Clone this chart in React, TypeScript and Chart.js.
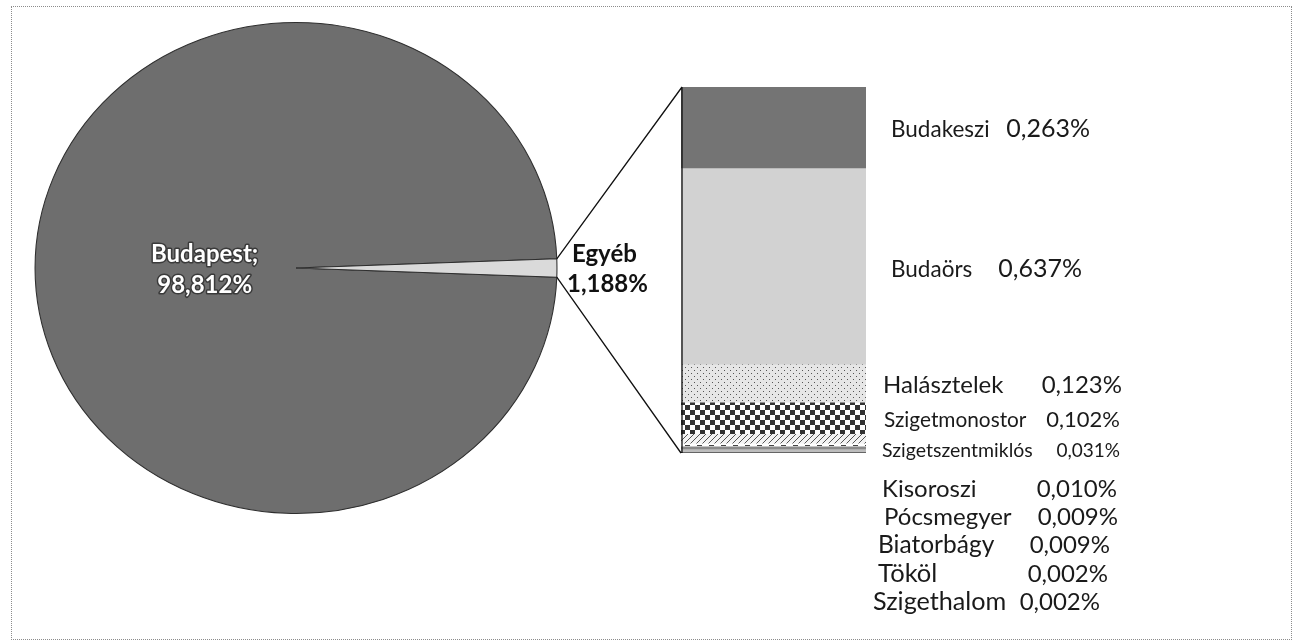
import React, { useEffect, useRef } from 'react';
import { Chart, registerables } from 'chart.js';
Chart.register(...registerables);

// ---- data ----
const pieLabels = ['Budapest', 'Egyéb'];
const pieValues = [98.812, 1.188];

const barLabels = [
  'Budakeszi', 'Budaörs', 'Halásztelek', 'Szigetmonostor', 'Szigetszentmiklós',
  'Kisoroszi', 'Pócsmegyer', 'Biatorbágy', 'Tököl', 'Szigethalom',
];
const barValues = [0.263, 0.637, 0.123, 0.102, 0.031, 0.010, 0.009, 0.009, 0.002, 0.002];

// ---- layout / style (not data) ----
const FONT = 'Lato, "Open Sans", sans-serif';
const SX = 1.063; // horizontal stretch of the scanned pie
// nx: name left x, vx: value right x, y: baseline, ns / vs: font sizes
const labelLayout = [
  { nx: 891, vx: 1090, y: 137, ns: 22.5, vs: 25 },
  { nx: 891, vx: 1082, y: 277, ns: 22.5, vs: 25 },
  { nx: 883, vx: 1122, y: 393, ns: 24, vs: 24 },
  { nx: 884, vx: 1120, y: 427, ns: 20.8, vs: 22 },
  { nx: 882, vx: 1120, y: 457, ns: 19.5, vs: 19 },
  { nx: 882, vx: 1117, y: 497, ns: 24, vs: 24 },
  { nx: 884, vx: 1118, y: 525, ns: 24, vs: 24 },
  { nx: 878, vx: 1110, y: 553, ns: 24.5, vs: 24 },
  { nx: 878, vx: 1108, y: 582, ns: 25.5, vs: 24 },
  { nx: 873, vx: 1100, y: 610, ns: 25.2, vs: 24 },
];

const fmt = (v: number, d = 3) => v.toFixed(d).replace('.', ',') + '%';

function makePattern(w: number, h: number, draw: (c: CanvasRenderingContext2D) => void) {
  const cv = document.createElement('canvas');
  cv.width = w;
  cv.height = h;
  const c = cv.getContext('2d')!;
  draw(c);
  return c.createPattern(cv, 'repeat')!;
}

export default function App() {
  const pieRef = useRef<HTMLCanvasElement>(null);
  const barRef = useRef<HTMLCanvasElement>(null);

  useEffect(() => {
    const dots = makePattern(6, 6, (c) => {
      c.fillStyle = '#e6e6e6';
      c.fillRect(0, 0, 6, 6);
      c.fillStyle = '#555';
      c.fillRect(1, 1, 1, 1);
      c.fillRect(4, 4, 1, 1);
    });
    const checker = makePattern(10, 10, (c) => {
      c.fillStyle = '#ffffff';
      c.fillRect(0, 0, 10, 10);
      c.fillStyle = '#333';
      c.fillRect(0, 0, 5, 5);
      c.fillRect(5, 5, 5, 5);
    });
    const hatch = makePattern(6, 6, (c) => {
      c.fillStyle = '#f4f4f4';
      c.fillRect(0, 0, 6, 6);
      c.strokeStyle = '#555';
      c.lineWidth = 1;
      c.beginPath();
      c.moveTo(0, 6);
      c.lineTo(6, 0);
      c.stroke();
    });
    const dashes = makePattern(12, 3, (c) => {
      c.fillStyle = '#ffffff';
      c.fillRect(0, 0, 12, 3);
      c.fillStyle = '#444';
      c.fillRect(1, 1, 5, 1);
    });
    const barFills: any[] = [
      '#747474', '#d2d2d2', dots, checker, hatch,
      dashes, '#8a8a8a', '#bdbdbd', '#555555', '#999999',
    ];

    const stretch = {
      id: 'stretch',
      beforeDatasetsDraw(chart: any) {
        const el = chart.getDatasetMeta(0).data[0];
        const ctx = chart.ctx;
        ctx.save();
        ctx.translate(el.x, 0);
        ctx.scale(SX, 1);
        ctx.translate(-el.x, 0);
      },
      afterDatasetsDraw(chart: any) {
        chart.ctx.restore();
      },
    };

    const pieText = {
      id: 'pieText',
      afterDraw(chart: any) {
        const ctx = chart.ctx;
        const arcs = chart.getDatasetMeta(0).data;
        const a0 = arcs[0];
        const R = a0.outerRadius;
        ctx.save();
        ctx.textBaseline = 'alphabetic';
        ctx.font = `bold 24px ${FONT}`;
        // Budapest label
        const mid = (a0.startAngle + a0.endAngle) / 2;
        const bx = a0.x + Math.cos(mid) * R * SX * 0.35;
        const by = a0.y + Math.sin(mid) * R * 0.35;
        ctx.textAlign = 'center';
        ctx.lineJoin = 'round';
        ctx.lineWidth = 3;
        ctx.strokeStyle = '#3a3a3a';
        const l1 = pieLabels[0] + ';';
        const l2 = fmt(pieValues[0]);
        ctx.strokeText(l1, bx, by - 6);
        ctx.strokeText(l2, bx, by + 25);
        ctx.fillStyle = '#ffffff';
        ctx.fillText(l1, bx, by - 6);
        ctx.fillText(l2, bx, by + 25);
        // Egyéb label
        const a1 = arcs[1];
        ctx.textAlign = 'left';
        ctx.fillStyle = '#111';
        const ex = a1.x + R * SX;
        ctx.fillText(pieLabels[1], ex + 15, a1.y - 6);
        ctx.fillText(fmt(pieValues[1]), ex + 10, a1.y + 24);
        ctx.restore();
      },
    };

    const pie = new Chart(pieRef.current!, {
      type: 'pie',
      data: {
        labels: pieLabels,
        datasets: [
          {
            data: pieValues,
            backgroundColor: ['#6e6e6e', '#dadada'],
            borderColor: '#2e2e2e',
            borderWidth: 1,
          },
        ],
      },
      options: {
        responsive: false,
        animation: false,
        rotation: 90 + (pieValues[1] / 100) * 180,
        layout: { padding: { left: 50, right: 758, top: 22, bottom: 129 } },
        plugins: { legend: { display: false }, tooltip: { enabled: false } },
      },
      plugins: [stretch, pieText],
    });

    const connectors = {
      id: 'connectors',
      afterDraw(chart: any) {
        const ctx = chart.ctx;
        const area = chart.chartArea;
        const arc: any = pie.getDatasetMeta(0).data[1];
        const R = arc.outerRadius;
        const p1 = { x: arc.x + Math.cos(arc.startAngle) * R * SX, y: arc.y + Math.sin(arc.startAngle) * R };
        const p2 = { x: arc.x + Math.cos(arc.endAngle) * R * SX, y: arc.y + Math.sin(arc.endAngle) * R };
        ctx.save();
        ctx.strokeStyle = '#111';
        ctx.lineWidth = 1.3;
        ctx.beginPath();
        ctx.moveTo(p1.x, p1.y);
        ctx.lineTo(area.left + 1, area.top);
        ctx.moveTo(p2.x, p2.y);
        ctx.lineTo(area.left, area.bottom);
        ctx.moveTo(area.left + 1, area.top);
        ctx.lineTo(area.left + 1, area.bottom);
        ctx.stroke();
        ctx.restore();
      },
    };

    const barText = {
      id: 'barText',
      afterDraw(chart: any) {
        const ctx = chart.ctx;
        ctx.save();
        ctx.textBaseline = 'alphabetic';
        ctx.fillStyle = '#1a1a1a';
        barLabels.forEach((name, i) => {
          const L = labelLayout[i];
          ctx.textAlign = 'left';
          ctx.font = `${L.ns}px ${FONT}`;
          ctx.fillText(name, L.nx, L.y);
          ctx.textAlign = 'right';
          ctx.font = `${L.vs}px ${FONT}`;
          ctx.fillText(fmt(barValues[i]), L.vx, L.y);
        });
        ctx.restore();
      },
    };

    const total = barValues.reduce((s, v) => s + v, 0);
    const bar = new Chart(barRef.current!, {
      type: 'bar',
      data: {
        labels: [''],
        datasets: barLabels.map((l, i) => ({
          label: l,
          data: [barValues[i]],
          backgroundColor: barFills[i],
          borderWidth: 0,
          barPercentage: 1,
          categoryPercentage: 1,
        })),
      },
      options: {
        responsive: false,
        animation: false,
        layout: { padding: { left: 681, right: 434, top: 87, bottom: 190 } },
        scales: {
          x: { display: false, stacked: true },
          y: { display: false, stacked: true, reverse: true, min: 0, max: total },
        },
        plugins: { legend: { display: false }, tooltip: { enabled: false } },
      },
      plugins: [connectors, barText],
    });

    return () => {
      bar.destroy();
      pie.destroy();
    };
  }, []);

  return (
    <div style={{ position: 'fixed', left: 0, top: 0, width: 1300, height: 643, background: '#fff', overflow: 'hidden' }}>
      <div
        style={{
          position: 'absolute', left: 11, top: 6, width: 1281, height: 634,
          border: '1px dotted #8c8c8c', boxSizing: 'border-box',
        }}
      />
      <canvas ref={pieRef} width={1300} height={643} style={{ position: 'absolute', left: 0, top: 0 }} />
      <canvas ref={barRef} width={1300} height={643} style={{ position: 'absolute', left: 0, top: 0 }} />
    </div>
  );
}
